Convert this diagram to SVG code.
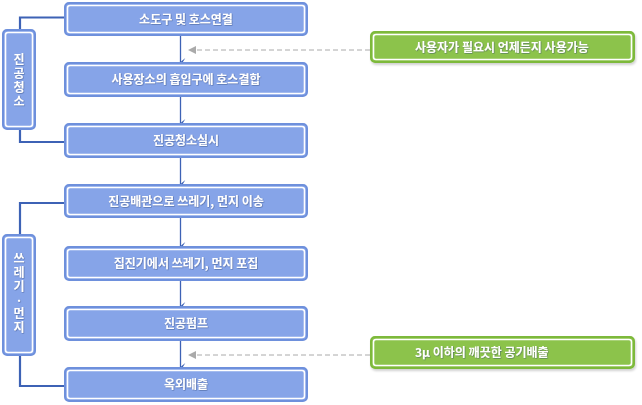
<svg xmlns="http://www.w3.org/2000/svg" width="642" height="405" viewBox="0 0 642 405">
<style>
.box-o{fill:#86a4e8;stroke:#6e90dc;stroke-width:2}
.box-i{fill:none;stroke:#ffffff;stroke-width:1.6}
.gbox-o{fill:#8cc34b;stroke:#7db93a;stroke-width:2}
.side-o{fill:#86a4e8;stroke:#6e90dc;stroke-width:2}
.t{font-family:"Noto Sans CJK KR","Noto Sans",sans-serif;font-size:12px;fill:#ffffff;text-anchor:middle;font-weight:bold}
.tl{font-family:"Noto Sans CJK KR","Noto Sans",sans-serif;font-size:12px;fill:#ffffff;text-anchor:start;font-weight:bold}
.tv{font-family:"Noto Sans CJK KR","Noto Sans",sans-serif;font-size:12px;fill:#ffffff;font-weight:bold;writing-mode:vertical-rl;text-orientation:upright}
.flow{stroke:#3d62b5;stroke-width:1.3;fill:none}
.bracket{stroke:#3d62b5;stroke-width:2.2;fill:none}
.dash{stroke:#aaaaaa;stroke-width:1;stroke-dasharray:5,3;fill:none}
</style>
<defs>
<filter id="ts" x="-10%" y="-30%" width="120%" height="160%">
<feDropShadow dx="0.6" dy="0.6" stdDeviation="0.5" flood-color="#2a3f70" flood-opacity="0.6"/>
</filter>
<filter id="bs" x="-5%" y="-20%" width="110%" height="150%">
<feDropShadow dx="1" dy="2" stdDeviation="1.2" flood-color="#000000" flood-opacity="0.18"/>
</filter>
<marker id="ah" viewBox="0 0 10 10" refX="5" refY="9" markerWidth="8" markerHeight="8" markerUnits="userSpaceOnUse" orient="auto-start-reverse">
<path d="M0,3 L5,9 L10,3 L5,6 Z" fill="#3d62b5"/>
</marker>
</defs>

<g id="connectors">
<path class="bracket" d="M64,17.5 H20 V30"/>
<path class="bracket" d="M20,129 V142 H64"/>
<path class="bracket" d="M64,203 H20 V235"/>
<path class="bracket" d="M20,355 V386 H64"/>
<line class="flow" x1="180.5" y1="36" x2="180.5" y2="62" marker-end="url(#ah)"/>
<line class="flow" x1="180.5" y1="97" x2="180.5" y2="123" marker-end="url(#ah)"/>
<line class="flow" x1="180.5" y1="158" x2="180.5" y2="184" marker-end="url(#ah)"/>
<line class="flow" x1="180.5" y1="218" x2="180.5" y2="246" marker-end="url(#ah)"/>
<line class="flow" x1="180.5" y1="281" x2="180.5" y2="306" marker-end="url(#ah)"/>
<line class="flow" x1="180.5" y1="341" x2="180.5" y2="367" marker-end="url(#ah)"/>
<line class="dash" x1="370" y1="50" x2="196" y2="50"/>
<path d="M188,50 L196,46 L196,54 Z" fill="#aaaaaa"/>
<line class="dash" x1="370" y1="355" x2="196" y2="355"/>
<path d="M188,355 L196,351 L196,359 Z" fill="#aaaaaa"/>
</g>

<g id="n1">
<rect class="box-o" x="65" y="3" width="242" height="32" rx="4"/>
<rect class="box-i" x="67.5" y="5.5" width="237" height="27" rx="2.5"/>
<text class="t" x="186" y="23.5" filter="url(#ts)">소도구 및 호스연결</text>
</g>
<g id="n2">
<rect class="box-o" x="65" y="63" width="242" height="33" rx="4"/>
<rect class="box-i" x="67.5" y="65.5" width="237" height="28" rx="2.5"/>
<text class="t" x="186" y="84" filter="url(#ts)">사용장소의 흡입구에 호스결합</text>
</g>
<g id="n3">
<rect class="box-o" x="65" y="124" width="242" height="33" rx="4"/>
<rect class="box-i" x="67.5" y="126.5" width="237" height="28" rx="2.5"/>
<text class="t" x="186" y="145" filter="url(#ts)">진공청소실시</text>
</g>
<g id="n4">
<rect class="box-o" x="65" y="185" width="242" height="32" rx="4"/>
<rect class="box-i" x="67.5" y="187.5" width="237" height="27" rx="2.5"/>
<text class="t" x="186" y="205.5" filter="url(#ts)">진공배관으로 쓰레기, 먼지 이송</text>
</g>
<g id="n5">
<rect class="box-o" x="65" y="247" width="242" height="33" rx="4"/>
<rect class="box-i" x="67.5" y="249.5" width="237" height="28" rx="2.5"/>
<text class="t" x="186" y="268" filter="url(#ts)">집진기에서 쓰레기, 먼지 포집</text>
</g>
<g id="n6">
<rect class="box-o" x="65" y="307" width="242" height="33" rx="4"/>
<rect class="box-i" x="67.5" y="309.5" width="237" height="28" rx="2.5"/>
<text class="t" x="186" y="328" filter="url(#ts)">진공펌프</text>
</g>
<g id="n7">
<rect class="box-o" x="65" y="368" width="242" height="33" rx="4"/>
<rect class="box-i" x="67.5" y="370.5" width="237" height="28" rx="2.5"/>
<text class="t" x="186" y="389" filter="url(#ts)">옥외배출</text>
</g>

<g id="side1">
<rect class="side-o" x="3" y="30" width="32" height="99" rx="4"/>
<rect class="box-i" x="5.5" y="32.5" width="27" height="94" rx="2.5"/>
<g filter="url(#ts)">
<text class="tv" x="19" y="53">진</text>
<text class="tv" x="19" y="67">공</text>
<text class="tv" x="19" y="81">청</text>
<text class="tv" x="19" y="95">소</text>
</g>
</g>
<g id="side2">
<rect class="side-o" x="3" y="235" width="32" height="120" rx="4"/>
<rect class="box-i" x="5.5" y="237.5" width="27" height="115" rx="2.5"/>
<g filter="url(#ts)">
<text class="tv" x="19" y="252">쓰</text>
<text class="tv" x="19" y="266">레</text>
<text class="tv" x="19" y="280">기</text>
<text class="tv" x="19" y="294">·</text>
<text class="tv" x="19" y="307">먼</text>
<text class="tv" x="19" y="321">지</text>
</g>
</g>

<g id="g1" filter="url(#bs)">
<rect class="gbox-o" x="371" y="32" width="263" height="30" rx="4"/>
<rect class="box-i" x="373.5" y="34.5" width="258" height="25" rx="2.5"/>
<text class="tl" x="415" y="51.5" filter="url(#ts)">사용자가 필요시 언제든지 사용가능</text>
</g>
<g id="g2" filter="url(#bs)">
<rect class="gbox-o" x="371" y="337" width="263" height="31" rx="4"/>
<rect class="box-i" x="373.5" y="339.5" width="258" height="26" rx="2.5"/>
<text class="tl" x="415" y="357" filter="url(#ts)">3μ 이하의 깨끗한 공기배출</text>
</g>
</svg>
